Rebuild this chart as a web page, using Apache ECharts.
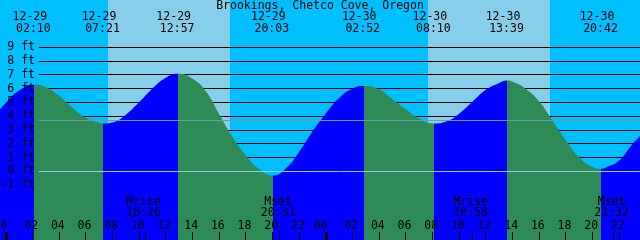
<!DOCTYPE html>
<html><head><meta charset="utf-8">
<script src="https://cdn.jsdelivr.net/npm/echarts@6/dist/echarts.min.js"></script>
<style>html,body{margin:0;padding:0;background:#00BFFF}#c{width:640px;height:240px}</style>
</head><body><div id="c"></div>
<script>
const stationName = 'Brookings, Chetco Cove, Oregon';
// tide extremes
const tideDates = ['12-29','12-29','12-29','12-29','12-30','12-30','12-30','12-30'];
const tideTimes = ['02:10','07:21','12:57','20:03','02:52','08:10','13:39','20:42'];
const tideFeet  = [6.28, 3.48, 7.08, -0.29, 6.2, 3.48, 6.59, 0.2];
// sun
const sunriseDates = ['12-29','12-30'];
const sunriseTimes = ['07:43','07:43'];
const sunsetDates  = ['12-29','12-30'];
const sunsetTimes  = ['16:52','16:52'];
// moon
const moonDates = ['12-29','12-29','12-30','12-30'];
const moonTimes = ['10:26','20:31','10:58','21:32'];
const moonKinds = ['Mrise','Mset','Mrise','Mset'];
// curve samples (hours since 12-29 00:00, feet)
const sampleHours = [-0.41, 0, 1, 3, 4, 5, 6, 7, 8, 9, 10, 11, 12, 14, 15, 16, 17, 18, 19, 21, 22, 23, 24, 25, 26, 28, 29, 30, 31, 33, 34, 35, 36, 37, 38, 39, 40, 41, 42, 43, 44, 45, 46, 47, 47.59];
const sampleFeet  = [4.5, 4.95, 5.85, 6.12, 5.5, 4.64, 3.9, 3.55, 3.55, 4.1, 5.0, 6.0, 6.78, 6.74, 5.85, 4.2, 2.53, 1.2, 0.2, 0.2, 1.4, 2.87, 4.17, 5.3, 5.99, 5.96, 5.25, 4.52, 3.85, 3.6, 4.17, 5.03, 5.9, 6.4, 6.52, 6.0, 5.1, 3.72, 2.3, 1.05, 0.35, 0.28, 0.77, 1.95, 2.55];
// axis ticks
const heightTicks = [-1, 0, 1, 2, 3, 4, 5, 6, 7, 8, 9];
const hourTicks = [0, 2, 4, 6, 8, 10, 12, 14, 16, 18, 20, 22, 24, 26, 28, 30, 32, 34, 36, 38, 40, 42, 44, 46];
const dayTicks = [0, 24];
const mslFeet = 3.7;
const datumFeet = 0;

const FONT = '11.5px "DejaVu Sans Mono"';
const NIGHT = '#00BFFF', DAY = '#87CEEB', RISE = '#0000FF', FALL = '#2E8B57';
const xMin = -0.4125, xMax = 47.5875;
const yMin = -(240 - 171.5) / 13.8, yMax = 171.5 / 13.8;

function toHours(d, t) {
  const day = d === '12-29' ? 0 : 24;
  const p = t.split(':');
  return day + (+p[0]) + (+p[1]) / 60;
}
const tideHours = tideTimes.map((t, i) => toHours(tideDates[i], t));
const sunrise = sunriseTimes.map((t, i) => toHours(sunriseDates[i], t));
const sunset = sunsetTimes.map((t, i) => toHours(sunsetDates[i], t));
const moonHours = moonTimes.map((t, i) => toHours(moonDates[i], t));

const curve = sampleHours.map((h, i) => [h, sampleFeet[i]])
  .concat(tideHours.map((h, i) => [h, tideFeet[i]]))
  .sort((a, b) => a[0] - b[0]);

const bands = [[xMin, sunrise[0], 0], [sunrise[0], sunset[0], 1], [sunset[0], sunrise[1], 0], [sunrise[1], sunset[1], 1], [sunset[1], xMax, 0]];

// colour pieces: rising (blue) before a high, falling (green) before a low
const pieces = [];
let prev = -Infinity;
tideHours.forEach((h, i) => {
  const isHigh = i + 1 < tideFeet.length ? tideFeet[i] > tideFeet[i + 1] : tideFeet[i] > tideFeet[i - 1];
  const pc = { color: isHigh ? RISE : FALL };
  if (prev !== -Infinity) pc.gte = prev;
  pc.lt = h;
  pieces.push(pc);
  prev = h;
});
const lastHigh = tideFeet[tideFeet.length - 1] > tideFeet[tideFeet.length - 2];
pieces.push({ gte: prev, color: lastHigh ? FALL : RISE });

const chart = echarts.init(document.getElementById('c'), null, { renderer: 'canvas' });

function textEl(x, y, s, align) {
  return { type: 'text', x: x, y: y, style: { text: s, fill: '#000', font: FONT, align: align || 'center', verticalAlign: 'middle' } };
}

chart.setOption({
  animation: false,
  backgroundColor: NIGHT,
  title: { text: stationName, left: 'center', top: 0, padding: 0, textStyle: { fontFamily: 'DejaVu Sans Mono', fontSize: 11.5, fontWeight: 'normal', color: '#000' } },
  grid: { left: 0, right: 0, top: 0, bottom: 0 },
  xAxis: { type: 'value', min: xMin, max: xMax, z: 8, axisLine: { show: false, onZero: false }, splitLine: { show: false },
    axisLabel: { show: false },
    axisTick: { show: true, inside: true, length: 8, lineStyle: { color: '#000', width: 1 }, customValues: hourTicks } },
  yAxis: { type: 'value', min: yMin, max: yMax, show: false },
  visualMap: { type: 'piecewise', show: false, dimension: 0, seriesIndex: 2, pieces: pieces },
  series: [
    { type: 'custom', z: 1, silent: true, data: bands, clip: true,
      renderItem: function (params, api) {
        const p0 = api.coord([api.value(0), yMax]);
        const p1 = api.coord([api.value(1), yMin]);
        const x0 = Math.round(p0[0]), x1 = Math.round(p1[0]);
        return { type: 'rect', shape: { x: x0, y: 0, width: x1 - x0, height: 240 }, style: { fill: api.value(2) ? DAY : NIGHT } };
      } },
    { type: 'custom', z: 2, silent: true, data: heightTicks.map(v => [0, v]),
      renderItem: function (params, api) {
        const y = Math.round(api.coord([0, api.value(1)])[1] - 0.5) + 0.5;
        return { type: 'line', shape: { x1: 39, y1: y, x2: 640, y2: y }, style: { stroke: '#000', lineWidth: 1 } };
      } },
    { type: 'line', z: 3, data: curve, smooth: 0.5, symbol: 'none', silent: true,
      lineStyle: { width: 0, opacity: 0 }, areaStyle: { opacity: 1, origin: 'start' } },
    { type: 'custom', z: 4, silent: true, data: [[0, mslFeet, 0], [0, datumFeet, 1]],
      renderItem: function (params, api) {
        const y = Math.round(api.coord([0, api.value(1)])[1] - 0.5) + 0.5;
        return { type: 'line', shape: { x1: 39, y1: y, x2: 640, y2: y }, style: { stroke: api.value(2) ? '#8CCFE6' : '#5FA3A0', lineWidth: 1 } };
      } },
    { type: 'custom', z: 5, silent: true, data: heightTicks.map(v => [0, v]),
      renderItem: function (params, api) {
        const y = api.coord([0, api.value(1)])[1];
        return textEl(35, y, api.value(1) + ' ft', 'right');
      } },
    { type: 'custom', z: 5, silent: true, data: tideHours.map((h, i) => [h, i]),
      renderItem: function (params, api) {
        const x = api.coord([api.value(0), 0])[0];
        const i = api.value(1);
        return { type: 'group', children: [textEl(x - 4.5, 17, tideDates[i]), textEl(x - 1, 29, tideTimes[i])] };
      } },
    { type: 'custom', z: 5, silent: true, data: moonHours.map((h, i) => [h, i]),
      renderItem: function (params, api) {
        const x = api.coord([api.value(0), 0])[0];
        const i = api.value(1);
        const tx = Math.round(x) + 0.5;
        return { type: 'group', children: [textEl(x - 1, 202.5, moonKinds[i]), textEl(x - 1, 213.5, moonTimes[i]),
          { type: 'line', shape: { x1: tx, y1: 232, x2: tx, y2: 240 }, style: { stroke: '#000', lineWidth: 1 } }] };
      } },
    { type: 'custom', z: 6, silent: true, data: hourTicks.map(h => [h, 0]),
      renderItem: function (params, api) {
        const h = api.value(0);
        const x = api.coord([h, 0])[0];
        const s = String(h % 24).padStart(2, '0');
        return textEl(x + (h % 24 === 0 ? -5 : -1), 226, s);
      } },
    { type: 'custom', z: 6, silent: true, data: dayTicks.map(h => [h, 0]),
      renderItem: function (params, api) {
        const x = Math.round(api.coord([api.value(0), 0])[0]);
        return { type: 'rect', shape: { x: x - 1, y: 232, width: 3, height: 8 }, style: { fill: '#000' } };
      } }
  ]
});
</script></body></html>
